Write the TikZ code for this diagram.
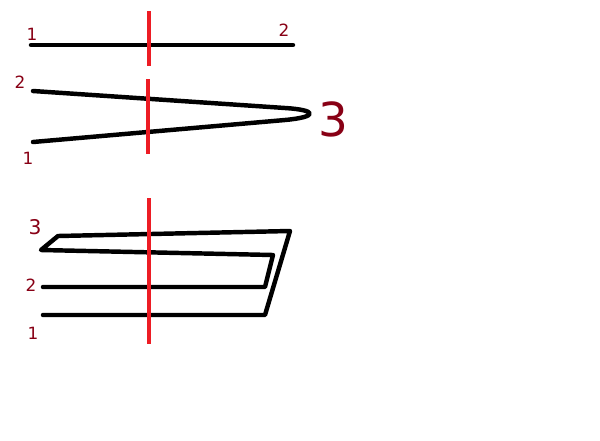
\documentclass[tikz,border=0pt]{standalone}
\usepackage{fontspec}
\setsansfont{DejaVu Sans}
\definecolor{paintred}{RGB}{237,28,36}
\definecolor{darkred}{RGB}{136,0,21}
\tikzset{
  strand/.style={line width=3.8pt, line cap=round, line join=round},
  cut/.style={line width=3.8pt, paintred},
  num/.style={darkred, font=\sffamily\Large, inner sep=0pt}
}
\begin{document}
\begin{tikzpicture}[x=0.03cm, y=-0.03cm]
\useasboundingbox (0, 0) rectangle (600, 440);

% straight strand
\coordinate (a1) at (31, 45);
\coordinate (a2) at (293, 45);
\draw[strand] (a1) -- (a2);
\draw[cut] (149, 11) -- (149, 66);
\node[num] (la1) at (32, 34) {1};
\node[num] (la2) at (284, 30) {2};

% folded once
\coordinate (b2) at (33, 91);
\coordinate (b1) at (33, 142);
\draw[strand] (b2) -- (285, 108) .. controls (318, 110) and (318, 117) .. (285, 120) -- (b1);
\draw[cut] (148, 79) -- (148, 154);
\node[num] (lb2) at (20, 82) {2};
\node[num] (lb1) at (28, 158) {1};
\node[darkred, font=\sffamily, scale=4, inner sep=0pt] (lb3) at (333, 119) {3};

% folded twice
\coordinate (c1) at (43, 315);
\coordinate (c1e) at (265, 315);
\coordinate (c2) at (43, 287);
\coordinate (c2e) at (265, 287);
\coordinate (c3) at (41, 250);
\draw[strand] (c1) -- (c1e) -- (290, 231) -- (58, 236) -- (c3) -- (273, 255) -- (c2e) -- (c2);
\draw[cut] (149, 198) -- (149, 344);
\node[num] (lc3) at (35, 227) {\LARGE 3};
\node[num] (lc2) at (31, 285) {2};
\node[num] (lc1) at (33, 333) {1};
\end{tikzpicture}
\end{document}
